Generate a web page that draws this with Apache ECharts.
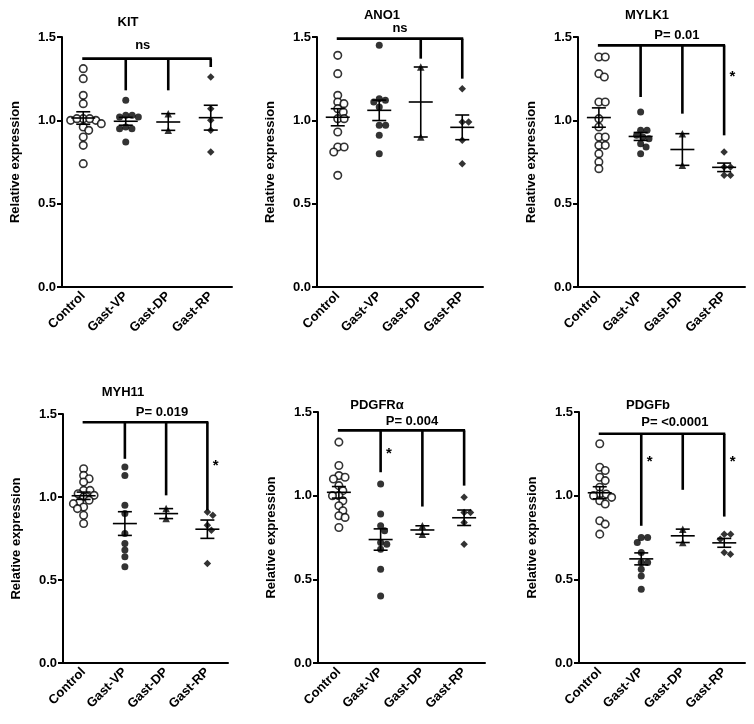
<!DOCTYPE html>
<html>
<head>
<meta charset="utf-8">
<script src="https://cdn.jsdelivr.net/npm/echarts@6/dist/echarts.min.js"></script>
<style>
  html, body { margin: 0; padding: 0; background: #fff; }
  #chart { width: 754px; height: 724px; }
</style>
</head>
<body>
<div id="chart"></div>
<script>
var categories = ['Control', 'Gast-VP', 'Gast-DP', 'Gast-RP'];
var genes = ['KIT', 'ANO1', 'MYLK1', 'MYH11', 'PDGFRα', 'PDGFb'];

// relative expression per group: Control, Gast-VP, Gast-DP, Gast-RP
var kitValues = [
  [1.31, 1.25, 1.15, 1.10, 1.01, 1.00, 1.01, 1.00, 1.01, 0.98, 0.96, 0.94, 0.90, 0.85, 0.74],
  [1.12, 1.03, 1.03, 1.02, 1.02, 0.96, 0.95, 0.95, 0.87],
  [1.04, 0.94],
  [1.26, 1.07, 1.00, 0.94, 0.81]
];
var ano1Values = [
  [1.39, 1.28, 1.15, 1.11, 1.10, 1.07, 1.05, 1.01, 1.01, 0.93, 0.84, 0.84, 0.81, 0.67],
  [1.45, 1.13, 1.12, 1.11, 1.08, 0.97, 0.97, 0.91, 0.80],
  [1.32, 0.90],
  [1.19, 0.99, 0.99, 0.88, 0.74]
];
var mylk1Values = [
  [1.38, 1.38, 1.28, 1.26, 1.11, 1.11, 1.01, 0.96, 0.90, 0.90, 0.85, 0.85, 0.80, 0.75, 0.71],
  [1.05, 0.94, 0.94, 0.91, 0.90, 0.89, 0.86, 0.84, 0.80],
  [0.92, 0.73],
  [0.81, 0.72, 0.72, 0.67, 0.67]
];
var myh11Values = [
  [1.17, 1.13, 1.11, 1.09, 1.04, 1.04, 1.02, 1.01, 1.00, 0.98, 0.97, 0.96, 0.94, 0.93, 0.89, 0.84],
  [1.18, 1.13, 0.95, 0.90, 0.78, 0.72, 0.68, 0.64, 0.58],
  [0.93, 0.87],
  [0.91, 0.89, 0.83, 0.80, 0.60]
];
var pdgfraValues = [
  [1.32, 1.18, 1.12, 1.11, 1.10, 1.06, 1.03, 1.00, 1.00, 0.97, 0.94, 0.91, 0.88, 0.87, 0.81],
  [1.07, 0.89, 0.82, 0.79, 0.72, 0.71, 0.68, 0.56, 0.40],
  [0.82, 0.77],
  [0.99, 0.90, 0.90, 0.84, 0.71]
];
var pdgfbValues = [
  [1.31, 1.17, 1.15, 1.11, 1.09, 1.05, 1.01, 1.01, 1.00, 0.99, 0.97, 0.95, 0.85, 0.83, 0.77],
  [0.75, 0.75, 0.72, 0.66, 0.60, 0.60, 0.56, 0.52, 0.44],
  [0.80, 0.72],
  [0.77, 0.77, 0.74, 0.65, 0.66]
];
var allValues = [kitValues, ano1Values, mylk1Values, myh11Values, pdgfraValues, pdgfbValues];

// comparison bracket: top of bar, and where each group's drop line ends (null = none)
var bracketTops = [1.37, 1.49, 1.45, 1.45, 1.39, 1.37];
var bracketDrops = [
  [null, 1.18, 1.18, 1.32],
  [null, null, 1.37, 1.25],
  [null, 1.14, 1.04, 0.91],
  [null, 1.23, 1.01, 0.92],
  [null, 1.14, 0.935, 1.06],
  [null, 0.82, 1.035, 0.875]
];
var pLabels = ['ns', 'ns', 'P= 0.01', 'P= 0.019', 'P= 0.004', 'P= <0.0001'];
// asterisks: group index and height
var stars = [
  [],
  [],
  [[3, 1.26]],
  [[3, 1.19]],
  [[1, 1.25]],
  [[1, 1.20], [3, 1.20]]
];

// layout
var grids = [
  { left: 62, top: 37, width: 170, height: 250 },
  { left: 317, top: 37, width: 166, height: 250 },
  { left: 578, top: 37, width: 167, height: 250 },
  { left: 63, top: 414, width: 165, height: 249 },
  { left: 318, top: 412, width: 167, height: 251 },
  { left: 579, top: 412, width: 166, height: 251 }
];
var titlePos = [[128, 16], [382, 9], [647, 9], [123, 386], [377, 399], [648, 399]];
var pLabelPos = [[1.9, 1.45], [2.0, 1.55], [2.37, 1.51], [2.4, 1.51], [2.25, 1.445], [2.31, 1.44]];
var symbols = ['circle', 'circle', 'triangle', 'diamond'];
var FONT = 'Liberation Sans, Arial, sans-serif';

function meanSem(arr) {
  var n = arr.length;
  var m = arr.reduce(function (a, b) { return a + b; }, 0) / n;
  var ss = arr.reduce(function (a, b) { return a + (b - m) * (b - m); }, 0);
  return [m, Math.sqrt(ss / (n - 1)) / Math.sqrt(n)];
}

// simple beeswarm: push points sideways so markers do not overlap
function swarm(vals, pxPerUnit, diam) {
  var order = vals.map(function (v, i) { return i; }).sort(function (a, b) { return vals[b] - vals[a]; });
  var placed = [], offs = [];
  order.forEach(function (i) {
    var y = vals[i] * pxPerUnit;
    var cands = [0];
    placed.forEach(function (p) {
      var dy = Math.abs(p.y - y);
      if (dy < diam) {
        var dx = Math.sqrt(diam * diam - dy * dy);
        cands.push(p.x + dx, p.x - dx);
      }
    });
    cands.sort(function (a, b) { return Math.abs(a) - Math.abs(b); });
    var x = cands.find(function (c) {
      return placed.every(function (p) { return (p.x - c) * (p.x - c) + (p.y - y) * (p.y - y) >= diam * diam - 0.01; });
    });
    placed.push({ x: x, y: y });
    offs[i] = x;
  });
  return offs;
}

function seg(x1, y1, x2, y2, w) {
  return { type: 'line', shape: { x1: x1, y1: y1, x2: x2, y2: y2 }, style: { stroke: '#000', lineWidth: w } };
}

var option = {
  animation: false,
  backgroundColor: '#fff',
  title: [], grid: [], xAxis: [], yAxis: [], series: []
};

grids.forEach(function (g, gi) {
  option.grid.push(g);
  option.title.push({
    text: genes[gi], left: titlePos[gi][0], top: titlePos[gi][1], textAlign: 'center', padding: 0,
    textStyle: { fontFamily: FONT, fontWeight: 'bold', fontSize: 13, color: '#000' }
  });
  option.xAxis.push({
    type: 'category', gridIndex: gi, data: categories, boundaryGap: true,
    axisLine: { lineStyle: { color: '#000', width: 2 } },
    axisTick: { alignWithLabel: true, length: 5, lineStyle: { color: '#000', width: 2 } },
    axisLabel: { rotate: 45, interval: 0, margin: 7, color: '#000', fontFamily: FONT, fontWeight: 'bold', fontSize: 13 },
    splitLine: { show: false }
  });
  option.xAxis.push({ type: 'value', gridIndex: gi, min: 0, max: 4, show: false });
  option.yAxis.push({
    type: 'value', gridIndex: gi, min: 0, max: 1.5, interval: 0.5,
    name: 'Relative expression', nameLocation: 'middle', nameGap: 40,
    nameTextStyle: { fontFamily: FONT, fontWeight: 'bold', fontSize: 13, color: '#000' },
    axisLine: { show: true, lineStyle: { color: '#000', width: 2 } },
    axisTick: { show: true, length: 5, lineStyle: { color: '#000', width: 2 } },
    axisLabel: { margin: 6, color: '#000', fontFamily: FONT, fontWeight: 'bold', fontSize: 13, formatter: function (v) { return v.toFixed(1); } },
    splitLine: { show: false }
  });

  var xi = gi * 2 + 1;
  var pxPerUnit = g.height / 1.5;
  var catPx = g.width / 4;
  var groups = allValues[gi];

  groups.forEach(function (vals, c) {
    var offs = swarm(vals, pxPerUnit, 6.4);
    option.series.push({
      type: 'scatter', xAxisIndex: xi, yAxisIndex: gi,
      symbol: symbols[c], symbolSize: c === 0 ? 7.5 : (c === 1 ? 7 : 7.5),
      itemStyle: c === 0 ? { color: '#fff', borderColor: '#000', borderWidth: 1.6 } : { color: '#000' },
      data: vals.map(function (v, i) { return [c + 0.5 + offs[i] / catPx, v]; }),
      z: 3
    });
  });

  // mean +/- SEM
  option.series.push({
    type: 'custom', xAxisIndex: xi, yAxisIndex: gi, z: 4,
    data: groups.map(function (vals, c) { var ms = meanSem(vals); return [c + 0.5, ms[0], ms[1]]; }),
    renderItem: function (params, api) {
      var x = api.value(0), m = api.value(1), s = api.value(2);
      var p = api.coord([x, m]), t = api.coord([x, m + s]), b = api.coord([x, m - s]);
      return { type: 'group', children: [
        seg(p[0] - 12, p[1], p[0] + 12, p[1], 1.6),
        seg(p[0], t[1], p[0], b[1], 1.6),
        seg(p[0] - 7, t[1], p[0] + 7, t[1], 1.6),
        seg(p[0] - 7, b[1], p[0] + 7, b[1], 1.6)
      ] };
    }
  });

  // bracket
  var segs = [[0.5, bracketTops[gi], 3.5, bracketTops[gi]]];
  bracketDrops[gi].forEach(function (d, c) {
    if (d !== null) segs.push([c + 0.5, bracketTops[gi], c + 0.5, d]);
  });
  option.series.push({
    type: 'custom', xAxisIndex: xi, yAxisIndex: gi, z: 2,
    data: segs,
    renderItem: function (params, api) {
      var a = api.coord([api.value(0), api.value(1)]), b = api.coord([api.value(2), api.value(3)]);
      var horiz = a[1] === b[1];
      return seg(horiz ? a[0] - 1 : a[0], a[1], horiz ? b[0] + 1 : b[0], b[1], 2.6);
    }
  });

  // text annotations
  var notes = [[pLabelPos[gi][0], pLabelPos[gi][1], pLabels[gi], 13]];
  stars[gi].forEach(function (s) { notes.push([s[0] + 0.7, s[1], '*', 15]); });
  option.series.push({
    type: 'custom', xAxisIndex: xi, yAxisIndex: gi, z: 5,
    data: notes.map(function (n, k) { return [n[0], n[1], k]; }),
    renderItem: function (params, api) {
      var n = notes[api.value(2)];
      var p = api.coord([api.value(0), api.value(1)]);
      return { type: 'text', x: p[0], y: p[1], style: {
        text: n[2], fill: '#000', align: 'center', verticalAlign: 'middle',
        font: 'bold ' + n[3] + 'px ' + FONT
      } };
    }
  });
});

var chart = echarts.init(document.getElementById('chart'));
chart.setOption(option);
</script>
</body>
</html>
